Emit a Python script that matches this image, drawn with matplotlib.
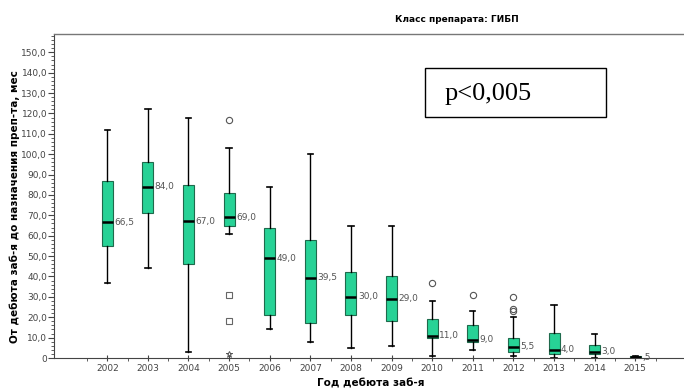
import matplotlib
matplotlib.use("Agg")
import matplotlib.pyplot as plt
from matplotlib.patches import Rectangle
from matplotlib.ticker import MultipleLocator, FuncFormatter

plt.rcParams['font.family'] = ['DejaVu Sans']

# data
years = ['2002', '2003', '2004', '2005', '2006', '2007', '2008',
         '2009', '2010', '2011', '2012', '2013', '2014', '2015']
whislo = [37, 44, 3, 61, 14, 8, 5, 6, 1, 4, 1, 0, 0, 0]
q1 = [55, 71, 46, 65, 21, 17, 21, 18, 10, 8, 3, 2, 2, 0]
med = [66.5, 84, 67, 69, 49, 39.5, 30, 29, 11, 9, 5.5, 4, 3, 0.5]
q3 = [87, 96, 85, 81, 64, 58, 42, 40, 19, 16, 10, 12.5, 6.5, 1]
whishi = [112, 122, 118, 103, 84, 100, 65, 65, 28, 23, 20, 26, 12, 1]
fliers = [[], [], [], [117], [], [], [], [], [37], [31], [30, 24, 23], [], [], []]
square_year = [3, 3]
square_val = [31, 18]
star_year = [3]
star_val = [2]
med_labels = ['66,5', '84,0', '67,0', '69,0', '49,0', '39,5', '30,0',
              '29,0', '11,0', '9,0', '5,5', '4,0', '3,0', ',5']

box_color = '#27d296'

fig = plt.figure(figsize=(6.84, 3.9), dpi=100)
ax = fig.add_axes([0.079, 0.082, 0.921, 0.831])

stats = []
for i in range(len(years)):
    stats.append(dict(med=med[i], q1=q1[i], q3=q3[i], whislo=whislo[i],
                      whishi=whishi[i], fliers=fliers[i], label=years[i]))

positions = list(range(len(years)))
ax.bxp(stats, positions=positions, widths=0.27, capwidths=0.13,
       patch_artist=True, manage_ticks=False,
       boxprops=dict(facecolor=box_color, edgecolor='#1f6a4c', linewidth=0.8),
       medianprops=dict(color='black', linewidth=1.8),
       whiskerprops=dict(color='black', linewidth=1.0),
       capprops=dict(color='black', linewidth=1.2),
       flierprops=dict(marker='o', markersize=4.5, markerfacecolor='none',
                       markeredgecolor='#555555', markeredgewidth=0.8))

ax.plot(square_year, square_val, linestyle='none', marker='s', markersize=4.5,
        markerfacecolor='none', markeredgecolor='#666666', markeredgewidth=0.8)
ax.plot(star_year, star_val, linestyle='none', marker='*', markersize=5,
        markerfacecolor='none', markeredgecolor='#555555', markeredgewidth=0.7)

for i, lab in enumerate(med_labels):
    ax.text(positions[i] + 0.17, med[i], lab, fontsize=6.5, color='#555555',
            ha='left', va='center')

ax.set_xlim(-1.31, 14.2)
ax.set_ylim(0, 159)

ax.set_xticks(positions)
ax.set_xticklabels(years)
ax.xaxis.set_minor_locator(MultipleLocator(1, offset=0.5))
ax.yaxis.set_major_locator(MultipleLocator(10))
ax.yaxis.set_minor_locator(MultipleLocator(2))
ax.yaxis.set_major_formatter(FuncFormatter(
    lambda v, p: '0' if v == 0 else ('%.1f' % v).replace('.', ',')))

ax.tick_params(axis='both', which='major', labelsize=6.5, labelcolor='#444444',
               length=4, width=0.8, color='#444444')
ax.tick_params(axis='both', which='minor', length=2.5, width=0.6, color='#444444')
ax.tick_params(axis='x', which='major', direction='inout', length=5, pad=2)
ax.tick_params(axis='y', pad=1)

ax.spines['right'].set_visible(False)
ax.spines['top'].set_color('#777777')
ax.spines['left'].set_color('#444444')
ax.spines['bottom'].set_color('#444444')
ax.spines['top'].set_linewidth(1.0)

fig.text(457 / 684, 1 - 20 / 390, 'Класс препарата: ГИБП', fontsize=6.5,
         fontweight='bold', ha='center', va='center')
fig.text(15 / 684, 1 - 207 / 390, 'От дебюта заб-я до назначения преп-та, мес',
         fontsize=7.5, fontweight='bold', rotation=90, ha='center', va='center')
fig.text(371 / 684, 1 - 383 / 390, 'Год дебюта заб-я', fontsize=7.5,
         fontweight='bold', ha='center', va='center')

# p-value box
fig.patches.append(Rectangle((425 / 684, 1 - 117 / 390), 181 / 684, 49 / 390,
                             transform=fig.transFigure, facecolor='white',
                             edgecolor='black', linewidth=1.0, zorder=5))
fig.text(445 / 684, 1 - 94 / 390, 'p<0,005', fontsize=19,
         family='Liberation Serif', ha='left', va='center', zorder=6)

fig.savefig('out.png', dpi=100)
